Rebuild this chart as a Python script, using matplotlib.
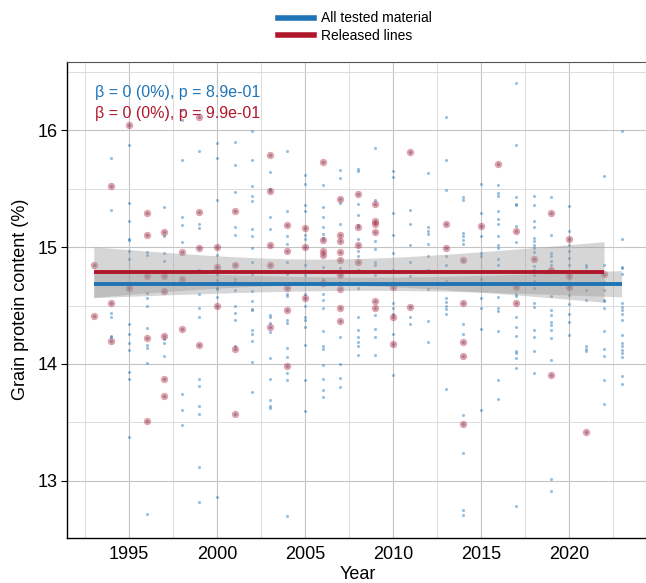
import numpy as np
import matplotlib
matplotlib.use('Agg')
import matplotlib.pyplot as plt
from matplotlib.lines import Line2D
from matplotlib.ticker import MultipleLocator

plt.rcParams['font.family'] = ['Liberation Sans', 'DejaVu Sans']

# years shown on the x axis
years = list(range(1993, 2024))

# grain protein content (%) of tested lines that were not released, per year 1993..2023
other_gpc = [
    [],
    [15.76, 15.32, 14.44, 14.40, 14.24, 14.23],
    [15.87, 15.38, 15.22, 15.07, 15.06, 14.97, 14.90, 14.34, 14.26, 14.18, 14.12, 13.93, 13.87, 13.38],
    [14.96, 14.93, 14.61, 14.56, 14.50, 14.31, 14.16, 14.14, 14.01, 12.72],
    [15.34, 15.09, 14.95, 14.88, 14.21, 14.18, 14.07],
    [16.17, 16.09, 15.74, 15.26, 15.19, 15.04, 13.74, 13.61, 13.48],
    [15.82, 15.20, 15.16, 14.80, 14.60, 14.48, 14.40, 13.87, 13.81, 13.64, 13.57, 13.12, 12.82],
    [15.89, 15.76, 15.40, 14.93, 14.77, 14.72, 14.65, 14.64, 14.57, 12.86],
    [15.90, 15.70, 15.47, 15.17, 15.10, 14.73, 14.70, 14.63, 14.50, 14.44, 14.38, 14.15],
    [15.99, 15.74, 15.52, 15.44, 15.39, 15.15, 15.09, 14.99, 14.87, 14.77, 14.62, 14.54, 14.47, 14.46,
     14.29, 14.26, 14.20, 14.02, 13.76],
    [15.64, 15.50, 15.26, 15.15, 14.68, 14.42, 14.40, 14.35, 14.27, 14.05, 13.87, 13.69, 13.64, 13.62],
    [15.82, 15.31, 15.09, 15.03, 14.87, 14.77, 14.60, 14.58, 14.38, 14.35, 14.14, 14.06, 13.92, 13.86, 12.70],
    [15.62, 15.54, 15.36, 15.31, 15.10, 15.07, 14.85, 14.76, 14.60, 14.50, 14.40, 14.38, 14.32, 14.16,
     13.86, 13.60],
    [15.53, 15.34, 15.26, 15.17, 15.11, 15.08, 14.83, 14.73, 14.60, 14.55, 14.48, 14.28, 14.15, 14.13,
     13.99, 13.87, 13.78, 13.72],
    [15.66, 15.59, 15.38, 15.20, 14.82, 14.70, 14.23, 14.00, 13.88, 13.80],
    [15.67, 15.65, 15.37, 15.27, 15.19, 15.07, 14.97, 14.92, 14.80, 14.65, 14.40, 14.29, 14.23, 14.19,
     14.15, 14.08],
    [15.85, 15.40, 15.05, 14.98, 14.87, 14.85, 14.76, 14.42, 14.30, 14.23, 14.08],
    [15.65, 15.60, 15.29, 15.10, 14.95, 14.80, 14.52, 14.48, 14.43, 14.26, 13.91],
    [15.32, 15.20, 15.02, 14.87, 14.75, 14.40, 14.34],
    [15.63, 15.17, 15.14, 15.11, 15.03, 14.92, 14.80, 14.64, 14.37, 14.19],
    [16.11, 15.74, 15.49, 14.92, 14.85, 14.71, 14.56, 14.53, 14.50, 14.47, 14.43, 13.79],
    [15.43, 15.40, 15.12, 15.09, 15.06, 15.03, 14.34, 14.26, 13.56, 13.24, 12.75, 12.71],
    [15.54, 15.29, 15.09, 14.95, 14.92, 14.73, 14.56, 14.48, 14.30, 13.61],
    [15.53, 15.46, 15.44, 15.31, 15.24, 15.20, 15.09, 15.02, 14.99, 14.90, 14.85, 14.57, 14.48, 14.45,
     14.28, 13.86, 13.70],
    [16.40, 15.87, 15.43, 15.37, 15.36, 15.18, 15.04, 14.60, 14.58, 14.40, 14.32, 14.24, 14.11, 14.09,
     14.05, 13.97, 12.79],
    [15.44, 15.36, 15.22, 15.17, 15.08, 15.05, 15.02, 14.99, 14.96, 14.84, 14.80, 14.76, 14.71, 14.65,
     14.52, 14.49, 14.29, 14.23, 14.11, 13.92],
    [15.43, 15.10, 14.95, 14.92, 14.88, 14.85, 14.68, 14.58, 14.46, 14.42, 14.36, 14.33, 14.29, 14.22,
     14.03, 13.02, 12.91],
    [15.35, 15.14, 15.02, 14.97, 14.91, 14.85, 14.78, 14.59, 14.51, 14.43, 14.36, 14.25],
    [14.85, 14.83, 14.63, 14.55, 14.15, 14.13, 14.11],
    [15.61, 14.85, 14.70, 14.63, 14.55, 14.54, 14.48, 14.28, 14.13, 14.07, 13.86, 13.66],
    [15.99, 15.07, 14.83, 14.82, 14.77, 14.52, 14.49, 14.46, 14.43, 14.38, 14.25, 14.18, 14.15, 14.12,
     14.09, 14.06, 13.90, 13.83],
]

# grain protein content (%) of released lines, per year 1993..2022
rel_gpc = [
    [14.85, 14.41],
    [15.52, 14.52, 14.20],
    [16.04, 14.65],
    [15.29, 15.10, 14.75, 14.22, 13.51],
    [15.13, 14.75, 14.62, 14.24, 13.87, 13.73],
    [14.96, 14.73, 14.30],
    [16.11, 15.30, 14.99, 14.16],
    [15.00, 14.83, 14.50],
    [15.31, 14.85, 14.13, 13.57],
    [],
    [15.79, 15.48, 15.02, 14.85, 14.32],
    [15.19, 14.97, 14.65, 14.46, 13.98],
    [15.16, 15.00, 14.56],
    [15.73, 15.06, 14.97, 14.93, 14.69],
    [15.41, 15.10, 15.05, 14.96, 14.89, 14.76, 14.64, 14.48, 14.37],
    [15.45, 15.17, 15.02, 14.87],
    [15.37, 15.22, 15.20, 15.13, 14.54, 14.48],
    [14.66, 14.40, 14.17],
    [15.81, 14.49],
    [],
    [15.20, 14.99],
    [14.89, 14.52, 14.19, 14.07, 13.49],
    [15.18],
    [15.71],
    [15.14, 14.66, 14.52],
    [14.90],
    [15.29, 14.80, 13.91],
    [15.07, 14.75, 14.66],
    [13.42],
    [14.77],
]

labels = ['All tested material', 'Released lines']
# trend slopes as printed on the chart (beta = 0)
slopes = [0.0, 0.0]
notes = ['β = 0 (0%), p = 8.9e-01', 'β = 0 (0%), p = 9.9e-01']

blue = '#1f74b6'
red = '#b0172b'

rel_x = np.array([y for y, v in zip(years, rel_gpc) for _ in v], dtype=float)
rel_y = np.array([g for v in rel_gpc for g in v])
oth_x = np.array([y for y, v in zip(years, other_gpc) for _ in v], dtype=float)
oth_y = np.array([g for v in other_gpc for g in v])
all_x = np.concatenate([oth_x, rel_x])
all_y = np.concatenate([oth_y, rel_y])


def trend_band(x, y, b, t=1.97):
    # line through the means with the given slope, 95% confidence band
    xm = x.mean()
    a = y.mean()
    xs = np.linspace(x.min(), x.max(), 100)
    fit = a + b * (xs - xm)
    n = len(x)
    s = np.sqrt(np.sum((y - (a + b * (x - xm))) ** 2) / (n - 2))
    se = s * np.sqrt(1 / n + (xs - xm) ** 2 / np.sum((x - xm) ** 2))
    return xs, fit, fit - t * se, fit + t * se


fig = plt.figure(figsize=(6.46, 5.83), dpi=100)
ax = fig.add_axes([0.1043, 0.0777, 0.8988, 0.8166])

ax.scatter(all_x, all_y, s=5, color=blue, alpha=0.45, lw=0, zorder=2)
ax.scatter(rel_x, rel_y, s=28, color=red, alpha=0.4, lw=0, zorder=3)

series = [(all_x, all_y, blue, slopes[0]), (rel_x, rel_y, red, slopes[1])]
fits = [trend_band(x, y, b) for x, y, c, b in series]
for xs, fit, lo, hi in fits:
    ax.fill_between(xs, lo, hi, color='#999999', alpha=0.4, lw=0, zorder=4)
for (xs, fit, lo, hi), (x, y, c, b) in zip(fits, series):
    ax.plot(xs, fit, color=c, lw=2.8, zorder=5, solid_capstyle='butt')

ax.set_xlim(1991.5, 2024.5)
ax.set_ylim(12.515, 16.585)
ax.xaxis.set_major_locator(MultipleLocator(5))
ax.xaxis.set_minor_locator(MultipleLocator(2.5))
ax.yaxis.set_major_locator(MultipleLocator(1))
ax.yaxis.set_minor_locator(MultipleLocator(0.5))
ax.grid(True, which='major', color='#c4c4c4', lw=0.8)
ax.grid(True, which='minor', color='#dcdcdc', lw=0.7)
ax.set_axisbelow(True)
ax.tick_params(axis='x', which='both', length=0, labelsize=13, pad=6)
ax.tick_params(axis='y', which='major', length=4, width=0.8, labelsize=13, pad=3)
ax.tick_params(axis='y', which='minor', length=0)
for side in ['left', 'bottom']:
    ax.spines[side].set_color('black')
    ax.spines[side].set_linewidth(1.0)
ax.spines['top'].set_color('#555555')
ax.spines['top'].set_linewidth(0.8)
ax.spines['right'].set_visible(False)

ax.set_xlabel('Year', fontsize=13, labelpad=2)
ax.set_ylabel('Grain protein content (%)', fontsize=13, labelpad=6)

ax.text(0.047, 0.936, notes[0], transform=ax.transAxes, color=blue, fontsize=11.5, va='center')
ax.text(0.047, 0.892, notes[1], transform=ax.transAxes, color=red, fontsize=11.5, va='center')

handles = [Line2D([], [], color=blue, lw=4), Line2D([], [], color=red, lw=4)]
fig.legend(handles, labels, loc='upper left', bbox_to_anchor=(0.415, 0.997), frameon=False,
           fontsize=10, handlelength=2.6, handletextpad=0.5, labelspacing=0.25, borderaxespad=0.3)

fig.savefig('out.png', dpi=100)
